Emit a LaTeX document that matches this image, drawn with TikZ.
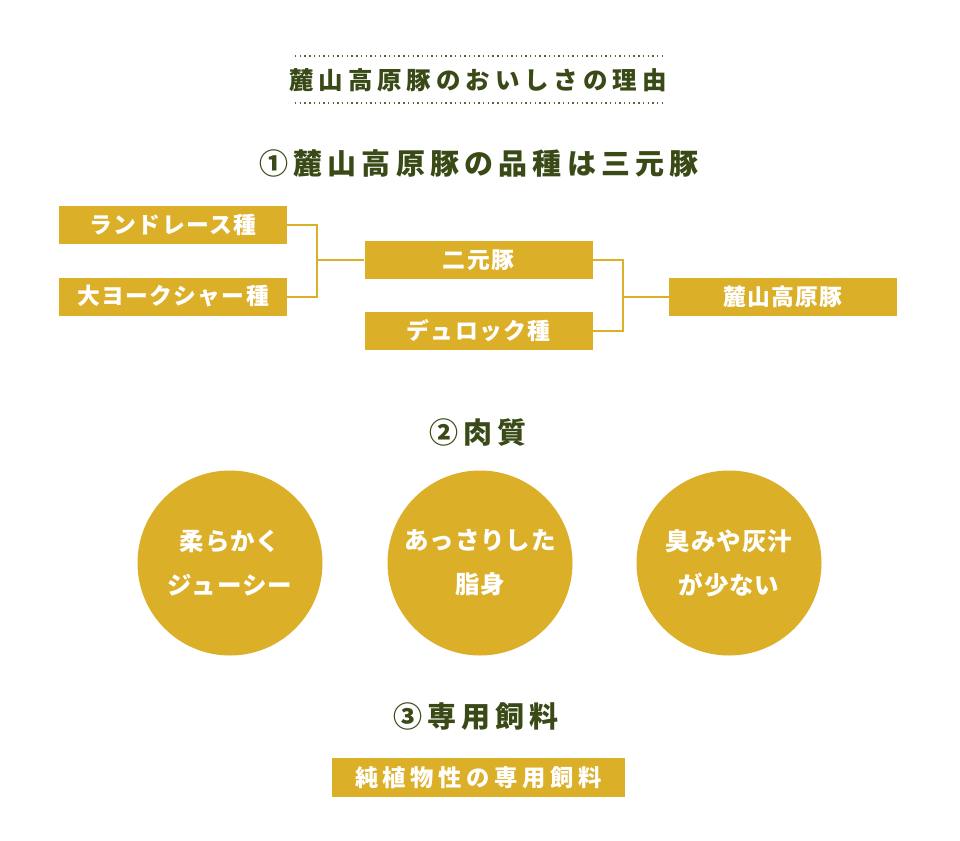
\documentclass[tikz,border=0pt]{standalone}
\usepackage{fontspec}
\setmainfont{Noto Sans CJK JP}
\newfontfamily\titlef[LetterSpace=20]{Noto Sans CJK JP}
\newfontfamily\headf[LetterSpace=18]{Noto Sans CJK JP}
\newfontfamily\boxf[LetterSpace=6]{Noto Sans CJK JP}
\newfontfamily\feedf[LetterSpace=20]{Noto Sans CJK JP}
\newfontfamily\circf[LetterSpace=4]{Noto Sans CJK JP}
\definecolor{gold}{HTML}{DBAF28}
\definecolor{leaf}{HTML}{3A4A17}
\begin{document}
\begin{tikzpicture}[x=1pt,y=-1pt,
  titlestyle/.style={text=leaf, inner sep=0pt, font=\titlef\bfseries\fontsize{24.5}{27}\selectfont},
  headstyle/.style={text=leaf, inner sep=0pt, font=\headf\bfseries\fontsize{29}{32}\selectfont},
  dotline/.style={draw=leaf!85, line width=1.4pt, dash pattern=on 1.4pt off 3.3pt},
  breedbox/.style={fill=gold, text=white, inner sep=0pt, minimum width=228pt, minimum height=38pt, font=\boxf\bfseries\fontsize{22.8}{25}\selectfont},
  feedbox/.style={fill=gold, text=white, inner sep=0pt, minimum width=293pt, minimum height=39pt, font=\feedf\bfseries\fontsize{23.3}{25}\selectfont},
  link/.style={draw=gold, line width=2pt},
  bubble/.style={circle, fill=gold, text=white, inner sep=0pt, minimum size=185pt, align=center, font=\circf\bfseries\fontsize{24.5}{44}\selectfont}
]
\useasboundingbox (0,0) rectangle (960,840);
\fill[white] (0,0) rectangle (960,840);

% title
\coordinate (d1a) at (295,56);
\coordinate (d1b) at (663,56);
\coordinate (d2a) at (295,103);
\coordinate (d2b) at (663,103);
\draw[dotline] (d1a) -- (d1b);
\draw[dotline] (d2a) -- (d2b);
\node[titlestyle] (title) at (478,80) {麓山高原豚のおいしさの理由};

% section 1
\node[headstyle] (h1) at (479,163) {①麓山高原豚の品種は三元豚};
\node[breedbox] (b1) at (173,224.5) {ランドレース種};
\node[breedbox] (b2) at (173,296.5) {大ヨークシャー種};
\node[breedbox] (b3) at (478.5,260) {二元豚};
\node[breedbox] (b4) at (478.5,331) {デュロック種};
\node[breedbox] (b5) at (783,296.5) {麓山高原豚};
\coordinate (j1) at (317,0 |- b3.west);
\coordinate (j2) at (623,0 |- b5.west);
\draw[link] (b1.east) -- (b1.east -| j1) -- (b2.east -| j1) -- (b2.east);
\draw[link] (j1) -- (b3.west);
\draw[link] (b3.east) -- (b3.east -| j2) -- (b4.east -| j2) -- (b4.east);
\draw[link] (j2) -- (b5.west);

% section 2
\node[headstyle] (h2) at (478,433) {②肉質};
\node[bubble] (c1) at (230,563) {柔らかく\\ジューシー};
\node[bubble] (c2) at (480,563) {あっさりした\\脂身};
\node[bubble] (c3) at (729,563) {臭みや灰汁\\が少ない};

% section 3
\node[headstyle] (h3) at (476,717) {③専用飼料};
\node[feedbox] (f1) at (478.5,777.5) {純植物性の専用飼料};
\end{tikzpicture}
\end{document}
